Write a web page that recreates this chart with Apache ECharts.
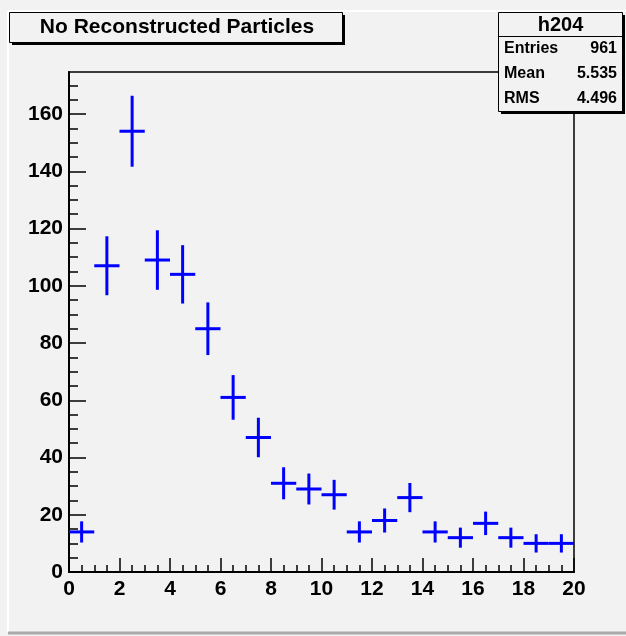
<!DOCTYPE html>
<html>
<head>
<meta charset="utf-8">
<script src="https://cdn.jsdelivr.net/npm/echarts@6/dist/echarts.min.js"></script>
<style>
html,body{margin:0;padding:0;background:#f2f2f2;}
#chart{width:626px;height:636px;}
</style>
</head>
<body>
<div id="chart"></div>
<script>
// ---- data ----
const binCenters = [0.5,1.5,2.5,3.5,4.5,5.5,6.5,7.5,8.5,9.5,10.5,11.5,12.5,13.5,14.5,15.5,16.5,17.5,18.5,19.5];
const counts     = [14,107,154,109,104,85,61,47,31,29,27,14,18,26,14,12,17,12,10,10];
const errors     = [3.7,10.3,12.4,10.4,10.2,9.2,7.8,6.9,5.6,5.4,5.2,3.7,4.2,5.1,3.7,3.5,4.1,3.5,3.2,3.2];
const xTickLabels = [0,2,4,6,8,10,12,14,16,18,20];
const yTickLabels = [0,20,40,60,80,100,120,140,160];
const yMinorTicks = [5,10,15,25,30,35,45,50,55,65,70,75,85,90,95,105,110,115,125,130,135,145,150,155,165,170];
const titleText = 'No Reconstructed Particles';
const statsName = 'h204';
const statsLabels = ['Entries','Mean','RMS'];
const statsValues = ['961','5.535','4.496'];

const binWidth = 1;
const yMax = 174.7;
const FONT = '"Liberation Sans", Arial, Helvetica, sans-serif';

const chart = echarts.init(document.getElementById('chart'), null, {renderer:'canvas'});

const seriesData = binCenters.map((x,i)=>[x, counts[i], errors[i]]);

function renderItem(params, api){
  const x = api.value(0), y = api.value(1), e = api.value(2);
  const l = api.coord([x - binWidth/2, y]);
  const r = api.coord([x + binWidth/2, y]);
  const t = api.coord([x, y + e]);
  const b = api.coord([x, y - e]);
  const style = {stroke:'#0000ff', lineWidth:3, fill:null};
  return {type:'group', children:[
    {type:'line', shape:{x1:l[0],y1:l[1],x2:r[0],y2:r[1]}, style:style},
    {type:'line', shape:{x1:t[0],y1:t[1],x2:b[0],y2:b[1]}, style:style}
  ]};
}

const statsY = [49, 74, 99];
const graphics = [
  // canvas bevel border
  {type:'line', shape:{x1:8,y1:11,x2:626,y2:11}, style:{stroke:'#ffffff', lineWidth:2}, z:1},
  {type:'line', shape:{x1:8,y1:11,x2:8,y2:632}, style:{stroke:'#ffffff', lineWidth:2}, z:1},
  {type:'line', shape:{x1:8,y1:633,x2:626,y2:633}, style:{stroke:'#aaaaaa', lineWidth:3}, z:1},
  // title box
  {type:'rect', shape:{x:12, y:15, width:333, height:30}, style:{fill:'#000'}, z:100},
  {type:'rect', shape:{x:9.5, y:12.5, width:333, height:30}, style:{fill:'#f2f2f2', stroke:'#000', lineWidth:1}, z:101},
  {type:'text', x:177, y:27.5, style:{text:titleText, font:'bold 21px '+FONT, fill:'#000', align:'center', verticalAlign:'middle'}, z:102},
  // stats box
  {type:'rect', shape:{x:501, y:15, width:124, height:99}, style:{fill:'#000'}, z:100},
  {type:'rect', shape:{x:498.5, y:12.5, width:124, height:99}, style:{fill:'#f2f2f2', stroke:'#000', lineWidth:1}, z:101},
  {type:'line', shape:{x1:498.5,y1:36.5,x2:622.5,y2:36.5}, style:{stroke:'#000', lineWidth:1}, z:102},
  {type:'text', x:560.5, y:25, style:{text:statsName, font:'bold 20px '+FONT, fill:'#000', align:'center', verticalAlign:'middle'}, z:102}
];
statsLabels.forEach((lab,i)=>{
  graphics.push({type:'text', x:504, y:statsY[i], style:{text:lab, font:'bold 16px '+FONT, fill:'#000', align:'left', verticalAlign:'middle'}, z:102});
  graphics.push({type:'text', x:617, y:statsY[i], style:{text:statsValues[i], font:'bold 16px '+FONT, fill:'#000', align:'right', verticalAlign:'middle'}, z:102});
});

const option = {
  backgroundColor:'#f2f2f2',
  animation:false,
  grid:{left:69, right:52, top:72, bottom:64, show:true, borderColor:'#000', borderWidth:1.5, backgroundColor:'transparent'},
  xAxis:{
    type:'value', min:0, max:20, interval:2,
    axisLine:{show:true, onZero:false, lineStyle:{color:'#000', width:2}},
    axisTick:{show:true, inside:true, length:14, lineStyle:{color:'#000', width:1.5}},
    minorTick:{show:true, splitNumber:4, length:7, lineStyle:{color:'#000', width:1.5}},
    axisLabel:{show:true, margin:7, color:'#000', fontWeight:'bold', fontSize:21, fontFamily:FONT,
      customValues:xTickLabels},
    splitLine:{show:false}, minorSplitLine:{show:false}
  },
  yAxis:[{
    type:'value', min:0, max:yMax, interval:20,
    axisLine:{show:true, onZero:false, lineStyle:{color:'#000', width:2}},
    axisTick:{show:true, inside:true, length:17, lineStyle:{color:'#000', width:1.5}, customValues:yTickLabels},
    axisLabel:{show:true, margin:6, color:'#000', fontWeight:'bold', fontSize:21, fontFamily:FONT, customValues:yTickLabels},
    splitLine:{show:false}
  },{
    type:'value', min:0, max:yMax, interval:5, position:'left', offset:0,
    axisLine:{show:false},
    axisTick:{show:true, inside:true, length:9, lineStyle:{color:'#000', width:1.5}, customValues:yMinorTicks},
    axisLabel:{show:false},
    splitLine:{show:false}
  }],
  series:[{
    type:'custom', renderItem:renderItem, data:seriesData, xAxisIndex:0, yAxisIndex:0,
    encode:{x:0, y:1}, clip:false, z:5
  }],
  graphic:graphics
};
chart.setOption(option);
</script>
</body>
</html>
